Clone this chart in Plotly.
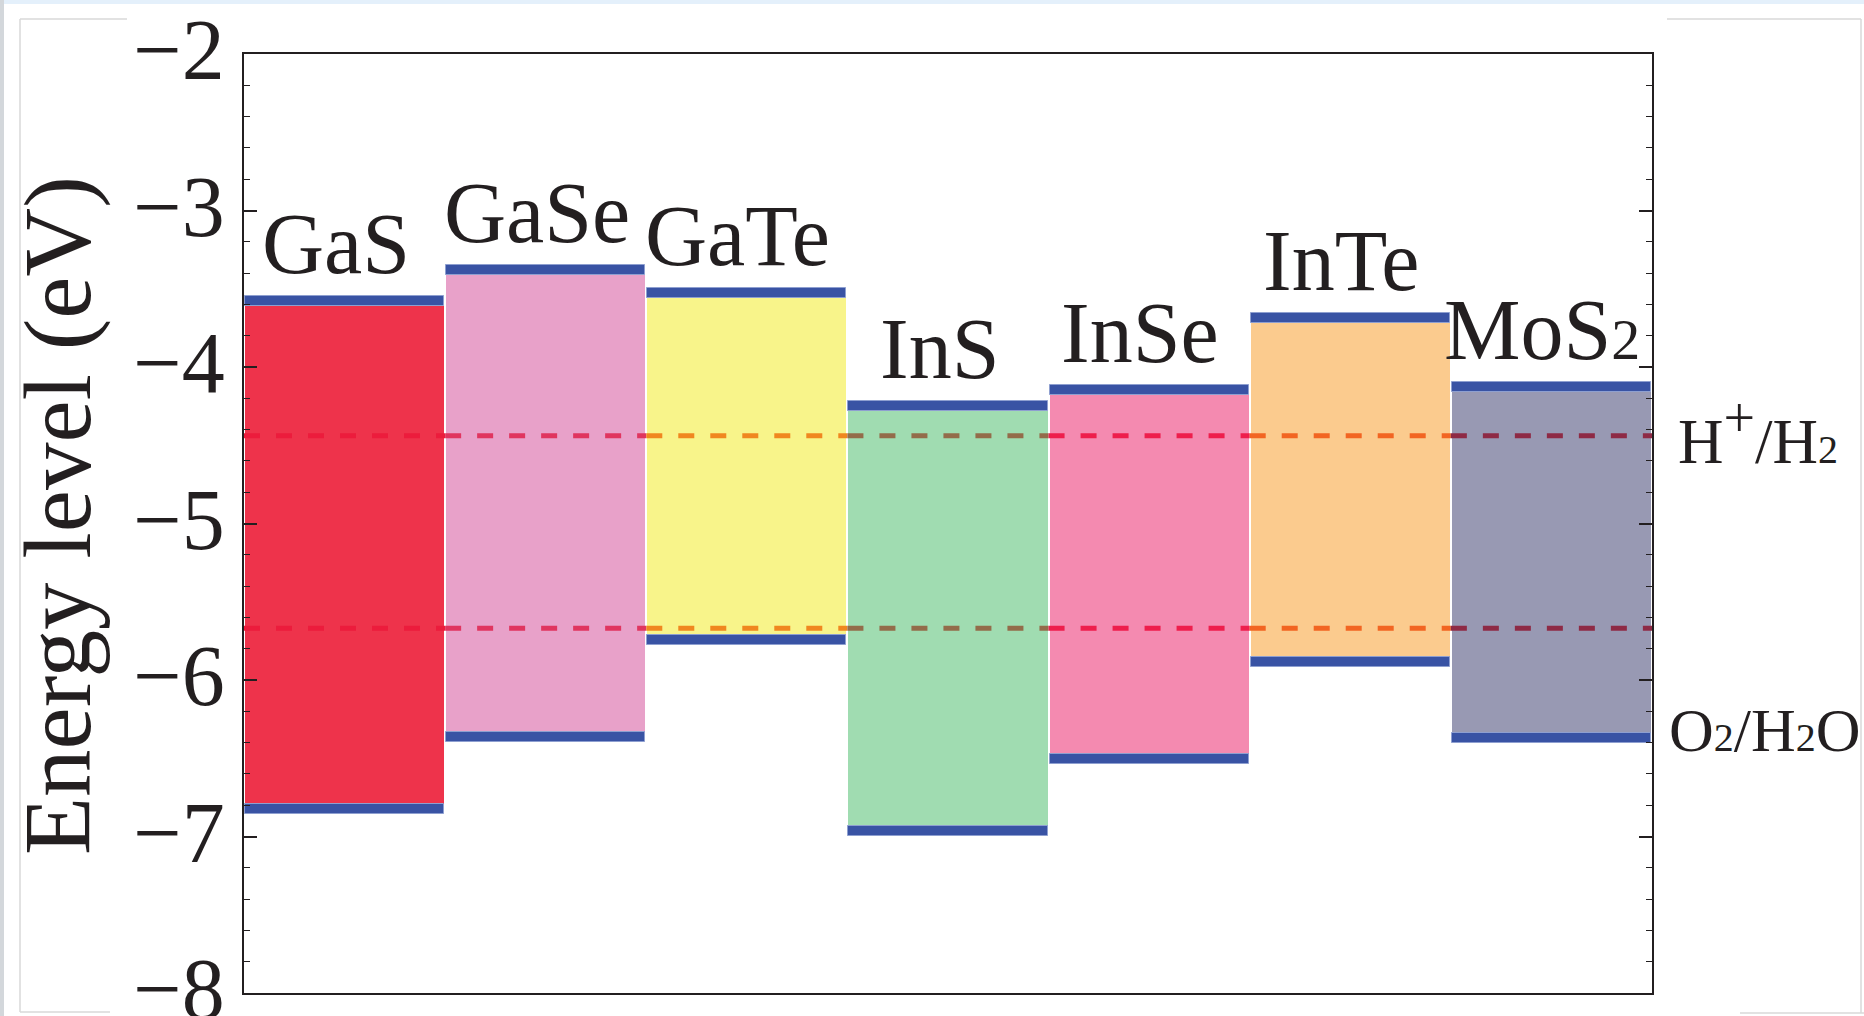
import plotly.graph_objects as go

# band edges (eV)
materials = ["GaS", "GaSe", "GaTe", "InS", "InSe", "InTe", "MoS2"]
label_text = ["GaS", "GaSe", "GaTe", "InS", "InSe", "InTe",
              "MoS<span style='font-size:58px'>2</span>"]
cbm = [-3.61, -3.41, -3.56, -4.28, -4.18, -3.72, -4.16]
vbm = [-6.79, -6.33, -5.71, -6.93, -6.47, -5.85, -6.34]
fill_colors = ["#ee334b", "#e8a1c9", "#f8f48a", "#a0dcb1", "#f48ab0", "#fbcb8e", "#9899b3"]
# colour the dashed redox lines take over each bar
dash_colors = ["#ec1c3c", "#e0355f", "#f0871f", "#936c4a", "#ee1e4c", "#f26522", "#8e2a45"]

h_level = -4.44   # H+/H2
o_level = -5.67   # O2/H2O

FONT = "'Liberation Serif', 'Times New Roman', serif"
INK = "#231f20"
CAP = 0.064  # thickness of the blue band-edge bars, eV

# plot area in pixels, for the frame decorations
L, R, T, B = 244, 1652, 54, 993


def px_x(px):
    return (px - L) / (R - L)


def px_y(py):
    return (B - py) / (B - T)


xs = list(range(1, len(materials) + 1))
gap = [c - v for c, v in zip(cbm, vbm)]

fig = go.Figure()
fig.add_trace(go.Bar(
    x=xs, y=gap, base=vbm, width=0.99,
    marker=dict(color=fill_colors, line=dict(width=0)),
    hoverinfo="skip",
))
fig.add_trace(go.Bar(
    x=xs, y=[CAP] * len(xs), base=cbm, width=0.99,
    marker=dict(color="#3953a4", line=dict(width=1, color="#8e9fd0")),
    hoverinfo="skip",
))
fig.add_trace(go.Bar(
    x=xs, y=[CAP] * len(xs), base=[v - CAP for v in vbm], width=0.99,
    marker=dict(color="#3953a4", line=dict(width=1, color="#8e9fd0")),
    hoverinfo="skip",
))

for level in (h_level, o_level):
    for i, col in zip(xs, dash_colors):
        fig.add_trace(go.Scatter(
            x=[i - 0.5, i + 0.5], y=[level, level], mode="lines",
            line=dict(color=col, width=5, dash="16px,16px"),
            hoverinfo="skip",
        ))

annotations = []
for i, txt, c in zip(xs, label_text, cbm):
    annotations.append(dict(
        x=i, y=c + CAP, xref="x", yref="y", text=txt, showarrow=False,
        xanchor="center", yanchor="bottom", xshift=-9, yshift=2,
        font=dict(family=FONT, size=86, color=INK),
    ))

annotations.append(dict(
    x=1, y=h_level, xref="paper", yref="y",
    text="H<sup><span style='font-size:56px'>+</span></sup>/H<span style='font-size:40px'>2</span>",
    showarrow=False, xanchor="left", yanchor="middle", xshift=24, yshift=4,
    font=dict(family=FONT, size=63, color=INK),
))
annotations.append(dict(
    x=1, y=-6.32, xref="paper", yref="y",
    text="O<span style='font-size:40px'>2</span>/H<span style='font-size:40px'>2</span>O",
    showarrow=False, xanchor="left", yanchor="middle", xshift=15,
    font=dict(family=FONT, size=62, color=INK),
))
annotations.append(dict(
    x=px_x(58), y=px_y(516), xref="paper", yref="paper",
    text="Energy level (eV)", textangle=-90, showarrow=False,
    xanchor="center", yanchor="middle",
    font=dict(family=FONT, size=95, color=INK),
))

# faint window frame around the original screenshot
frame = dict(color="#d9d9d9", width=1.5)
shapes = [
    dict(type="rect", xref="paper", yref="paper", x0=px_x(0), x1=px_x(1864),
         y0=px_y(0), y1=px_y(4), fillcolor="#e4f0fb", line=dict(width=0), layer="below"),
    dict(type="rect", xref="paper", yref="paper", x0=px_x(0), x1=px_x(4),
         y0=px_y(0), y1=px_y(1016), fillcolor="#d3d7db", line=dict(width=0), layer="below"),
    dict(type="line", xref="paper", yref="paper", x0=px_x(20), x1=px_x(127),
         y0=px_y(19), y1=px_y(19), line=frame, layer="below"),
    dict(type="line", xref="paper", yref="paper", x0=px_x(20), x1=px_x(20),
         y0=px_y(19), y1=px_y(1012), line=frame, layer="below"),
    dict(type="line", xref="paper", yref="paper", x0=px_x(20), x1=px_x(110),
         y0=px_y(1012), y1=px_y(1012), line=frame, layer="below"),
    dict(type="line", xref="paper", yref="paper", x0=px_x(1667), x1=px_x(1861),
         y0=px_y(19), y1=px_y(19), line=frame, layer="below"),
    dict(type="line", xref="paper", yref="paper", x0=px_x(1861), x1=px_x(1861),
         y0=px_y(19), y1=px_y(1013), line=frame, layer="below"),
    dict(type="line", xref="paper", yref="paper", x0=px_x(1740), x1=px_x(1864),
         y0=px_y(1013), y1=px_y(1013), line=frame, layer="below"),
]

fig.update_layout(
    width=1864, height=1016,
    margin=dict(l=L, r=1864 - R, t=T, b=1016 - B, autoexpand=False),
    paper_bgcolor="white", plot_bgcolor="white",
    barmode="overlay", bargap=0, showlegend=False,
    annotations=annotations, shapes=shapes,
    font=dict(family=FONT, color=INK),
)
fig.update_xaxes(
    range=[0.5, 7.5], showticklabels=False, ticks="", showgrid=False, zeroline=False,
    showline=True, mirror=True, linecolor=INK, linewidth=2, automargin=False,
)
fig.update_yaxes(
    range=[-8, -2], dtick=1, tick0=-8, showgrid=False, zeroline=False,
    showline=True, mirror="allticks", linecolor=INK, linewidth=2, automargin=False,
    ticks="inside", ticklen=13, tickwidth=1.5, tickcolor=INK,
    minor=dict(dtick=0.2, ticks="inside", ticklen=6, tickwidth=1.2, tickcolor=INK, showgrid=False),
    tickfont=dict(family=FONT, size=86, color=INK),
    ticklabeloverflow="allow", ticklabelshift=-5,
)

# drop the browser's default page margin so the figure sits at the top-left corner
fig.write_html(
    "out.html",
    config={"displayModeBar": False},
    post_script="document.body.style.margin='0px'; document.body.style.overflow='hidden';",
)
